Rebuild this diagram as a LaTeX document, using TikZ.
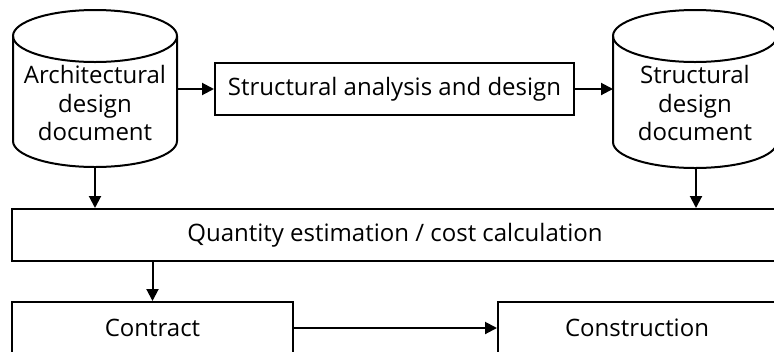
\documentclass[tikz,border=0pt]{standalone}
\usepackage{fontspec}
\setmainfont{Open Sans}
\usetikzlibrary{arrows.meta}

\begin{document}
\begin{tikzpicture}[x=0.75pt,y=-0.75pt,
    blocco/.style={draw,line width=1.5pt,minimum height=39pt,inner sep=0pt},
    docu/.style={align=center,inner sep=0pt},
    cil/.style={line width=1.5pt},
    freccia/.style={line width=1.5pt,-{Triangle[length=9pt,width=9pt]}}]
  \fontsize{18}{21.5}\selectfont
  \useasboundingbox (0,0) rectangle (774,351);

  % ---- cilindri ------------------------------------------------------------
  \draw[cil,fill=white] (13,36) -- (13,141)
    arc[start angle=180,end angle=360,x radius=61.5pt,y radius=19.5pt] -- (177,36);
  \draw[cil] (95,36) ellipse [x radius=61.5pt,y radius=19.5pt];
  \draw[cil,fill=white] (613,36) -- (613,142)
    arc[start angle=180,end angle=360,x radius=61.5pt,y radius=19.5pt] -- (777,36);
  \draw[cil] (695,36) ellipse [x radius=61.5pt,y radius=19.5pt];

  \coordinate (archE) at (177,89);
  \coordinate (archS) at (95,167);
  \coordinate (strW)  at (613,89);
  \coordinate (strS)  at (696,168);

  % ---- nodi ----------------------------------------------------------------
  \node[docu] (arch) at (95,103)  {Architectural\\design\\document};
  \node[docu] (str)  at (695,103) {Structural\\design\\document};
  \node[blocco,minimum width=269.25pt] (ana)    at (394.5,89) {Structural analysis and design};
  \node[blocco,minimum width=574.5pt]  (qty)    at (395,235)  {Quantity estimation / cost calculation};
  \node[blocco,minimum width=210.75pt] (contr)  at (152.5,328) {Contract};
  \node[blocco,minimum width=208.5pt]  (constr) at (637,328)  {Construction};

  % ---- frecce --------------------------------------------------------------
  \draw[freccia] (archE) -- (ana.west);
  \draw[freccia] (ana.east) -- (strW);
  \draw[freccia] (archS) -- (archS |- qty.north);
  \draw[freccia] (strS) -- (strS |- qty.north);
  \draw[freccia] (contr.north |- qty.south) -- (contr.north);
  \draw[freccia] (contr.east) -- (constr.west);
\end{tikzpicture}
\end{document}
